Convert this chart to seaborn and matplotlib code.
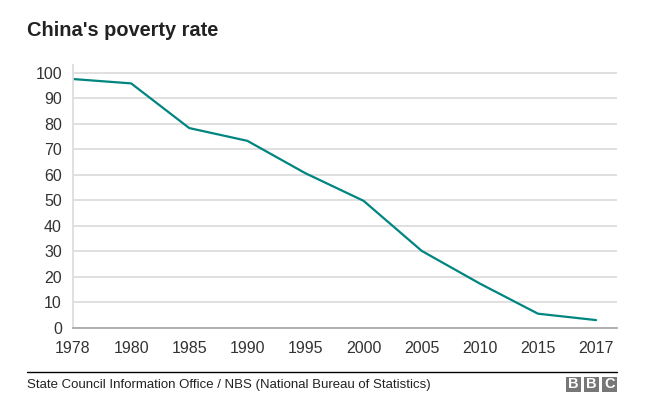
import matplotlib
matplotlib.use('Agg')
import matplotlib.pyplot as plt
import seaborn as sns
import pandas as pd
from matplotlib.patches import Rectangle
from matplotlib.lines import Line2D

# Data
years = ['1978', '1980', '1985', '1990', '1995', '2000', '2005', '2010', '2015', '2017']
poverty_rate = [97.5, 95.8, 78.3, 73.3, 60.6, 49.8, 30.2, 17.4, 5.6, 3.1]
y_ticks = [0, 10, 20, 30, 40, 50, 60, 70, 80, 90, 100]

sns.set_style('white')
plt.rcParams['font.family'] = ['Liberation Sans', 'DejaVu Sans']

df = pd.DataFrame({'year': years, 'rate': poverty_rate})

fig = plt.figure(figsize=(6.45, 4.19), dpi=100)
ax = fig.add_axes([73 / 645, 1 - 328 / 419, (617 - 73) / 645, (328 - 65) / 419])

sns.lineplot(data=df, x='year', y='rate', ax=ax, color='#008580', linewidth=1.6)

ax.set_xlim(0, len(years) - 1 + 0.36)
ax.set_ylim(0, 103)
ax.set_yticks(y_ticks)
ax.set_xlabel('')
ax.set_ylabel('')
ax.yaxis.grid(True, color='#dddddd', linewidth=1.3)
ax.set_axisbelow(True)

for side in ['top', 'right']:
    ax.spines[side].set_visible(False)
ax.spines['left'].set_color('#dddddd')
ax.spines['left'].set_linewidth(1.3)
ax.spines['bottom'].set_color('#aaaaaa')
ax.spines['bottom'].set_linewidth(1.3)

ax.tick_params(axis='y', length=7, width=1.3, color='#dddddd', labelsize=11.5,
               labelcolor='#333333', pad=1)
ax.tick_params(axis='x', length=0, labelsize=11.5, labelcolor='#333333', pad=9)

# title and footer
fig.text(27 / 645, 1 - 31 / 419, "China's poverty rate", fontsize=14.4,
         fontweight='bold', color='#222222', va='center', ha='left')
fig.add_artist(Line2D([27 / 645, 617 / 645], [1 - 372 / 419, 1 - 372 / 419],
                      color='black', linewidth=1, transform=fig.transFigure))
fig.text(27 / 645, 1 - 385 / 419, 'State Council Information Office / NBS (National Bureau of Statistics)',
         fontsize=9.5, color='#222222', va='center', ha='left')

# BBC blocks
box_w = 15 / 645
box_h = 14.5 / 419
for i, letter in enumerate('BBC'):
    x0 = (566 + i * 18) / 645
    y0 = 1 - 391.5 / 419
    fig.add_artist(Rectangle((x0, y0), box_w, box_h, transform=fig.transFigure,
                             facecolor='#777777', edgecolor='none'))
    fig.text(x0 + box_w / 2, y0 + box_h / 2, letter, fontsize=10.5, fontweight='bold',
             color='white', ha='center', va='center')

fig.savefig('out.png', dpi=100)
